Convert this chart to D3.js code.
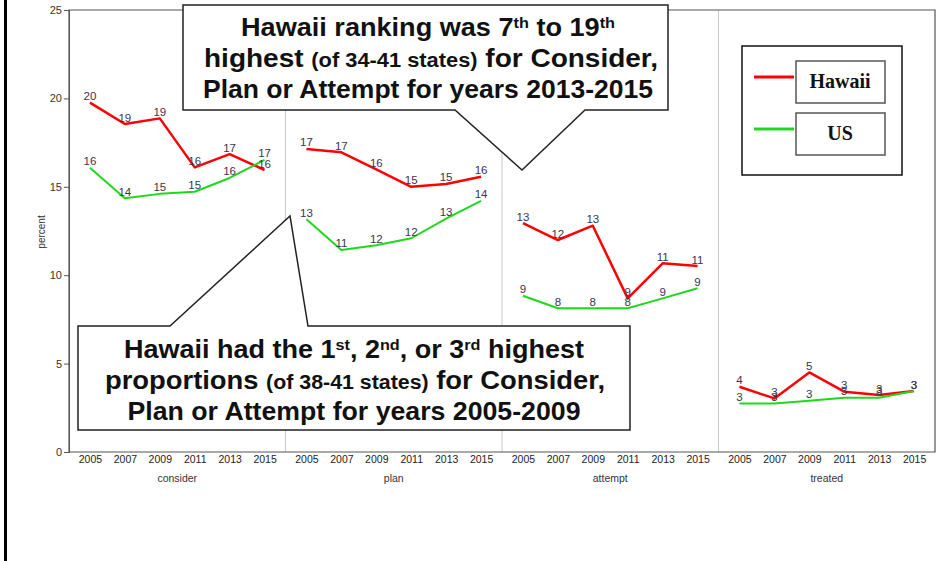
<!DOCTYPE html>
<html><head><meta charset="utf-8">
<script src="https://cdn.jsdelivr.net/npm/d3@7"></script>
<style>
body{margin:0;background:#fff;}
svg{display:block;font-family:"Liberation Sans",Arial,sans-serif;}
</style></head>
<body><svg id="c" width="951" height="561"></svg>
<script>
const years = ["2005","2007","2009","2011","2013","2015"];
const measures = ["consider","plan","attempt","treated"];
const hawaiiConsider = [19.76, 18.55, 18.87, 16.1, 16.85, 15.95];
const hawaiiPlan     = [17.14, 16.95, 15.99, 15.0, 15.16, 15.57];
const hawaiiAttempt  = [12.94, 11.99, 12.8, 8.69, 10.67, 10.52];
const hawaiiTreated  = [3.69, 3.03, 4.5, 3.41, 3.22, 3.45];
const usConsider = [16.08, 14.35, 14.6, 14.72, 15.5, 16.52];
const usPlan     = [13.16, 11.43, 11.7, 12.09, 13.2, 14.2];
const usAttempt  = [8.84, 8.13, 8.13, 8.13, 8.69, 9.26];
const usTreated  = [2.75, 2.75, 2.9, 3.07, 3.07, 3.45];
const yTicks = [0,5,10,15,20,25];
const seriesNames = ["Hawaii","US"];
const colors = {Hawaii:"#ff0000", US:"#1ed81e"};

const series = [
  {name:"Hawaii", data:[hawaiiConsider,hawaiiPlan,hawaiiAttempt,hawaiiTreated]},
  {name:"US", data:[usConsider,usPlan,usAttempt,usTreated]}
];

const svg = d3.select("#c");
const L=69, R=935, T=10, B=452;
const y = d3.scaleLinear().domain([0,25]).range([B,T]);
const panel = d3.scaleBand().domain(measures).range([L,R]).padding(0);
const x = d3.scalePoint().domain(years).range([0,panel.bandwidth()]).padding(0.6);

// left black border
svg.append("line").attr("x1",5.5).attr("x2",5.5).attr("y1",0).attr("y2",561)
  .attr("stroke","#000").attr("stroke-width",3);

// panel separators
measures.slice(1).forEach(m=>{
  svg.append("line").attr("x1",panel(m)).attr("x2",panel(m)).attr("y1",T).attr("y2",B)
    .attr("stroke","#c8c8c8").attr("stroke-width",1);
});
// frame
svg.append("path").attr("d",`M${L},${T}H${R}V${B}H${L}Z`).attr("fill","none")
  .attr("stroke","#555").attr("stroke-width",1.2);

// y axis
const yAx = svg.append("g").attr("transform",`translate(${L},0)`)
  .call(d3.axisLeft(y).tickValues(yTicks).tickSize(5).tickPadding(2));
yAx.select(".domain").attr("stroke","#555");
yAx.selectAll("line").attr("stroke","#555");
yAx.selectAll("text").attr("font-size",11).attr("fill","#333").attr("font-family","Liberation Sans, Arial");
svg.append("text").attr("transform","translate(45,232) rotate(-90)").attr("text-anchor","middle")
  .attr("font-size",10).attr("fill","#333").text("percent");

// x axes per panel
measures.forEach(m=>{
  const g = svg.append("g").attr("transform",`translate(${panel(m)},${B})`)
    .call(d3.axisBottom(x).tickSize(0).tickPadding(4));
  g.select(".domain").remove();
  g.selectAll("text").attr("font-size",10.5).attr("fill","#222").attr("font-family","Liberation Sans, Arial");
  svg.append("text").attr("x",panel(m)+panel.bandwidth()/2).attr("y",482)
    .attr("text-anchor","middle").attr("font-size",10.5).attr("fill","#333").text(m);
});

// lines and labels
const line = d3.line().x(d=>d.x).y(d=>d.y);
series.forEach(s=>{
  measures.forEach((m,mi)=>{
    const pts = s.data[mi].map((v,i)=>({x:panel(m)+x(years[i]), y:y(v), v}));
    svg.append("path").attr("d",line(pts)).attr("fill","none")
      .attr("stroke",colors[s.name]).attr("stroke-width",s.name==="Hawaii"?2.5:2)
      .attr("stroke-linejoin","round");
  });
});
series.forEach(s=>{
  measures.forEach((m,mi)=>{
    s.data[mi].forEach((v,i)=>{
      svg.append("text").attr("x",panel(m)+x(years[i])).attr("y",y(v)-2.5)
        .attr("text-anchor","middle").attr("font-size",11.5).attr("fill","#3a3450")
        .text(Math.round(v));
    });
  });
});

function addLine(g, cx, yb, parts, fs, w){
  const t = g.append("text").attr("x",cx).attr("y",yb).attr("text-anchor","middle")
    .attr("font-weight","bold").attr("font-size",fs).attr("fill","#111")
    .attr("textLength",w).attr("lengthAdjust","spacingAndGlyphs");
  parts.forEach(p=>{
    const ts = t.append("tspan").text(p.t);
    if(p.sup){ ts.attr("font-size",fs*0.6).attr("baseline-shift","55%"); }
    if(p.small){ ts.attr("font-size",fs*0.78); }
  });
}
// top callout
const tb = svg.append("g");
tb.append("path").attr("d","M183,5H668V110H585L522,170L455,110H183Z")
  .attr("fill","#fff").attr("stroke","#222").attr("stroke-width",1.5);
addLine(tb,428,36,[{t:"Hawaii ranking was 7"},{t:"th",sup:1},{t:" to 19"},{t:"th",sup:1}],25,374);
addLine(tb,431,67,[{t:"highest "},{t:"(of 34-41 states)",small:1},{t:" for Consider,"}],25,454);
addLine(tb,428,98,[{t:"Plan or Attempt for years 2013-2015"}],25,450);

// bottom callout
const bb = svg.append("g");
bb.append("path").attr("d","M78,326H170L290,216L308,326H630V430H78Z")
  .attr("fill","#fff").attr("stroke","#222").attr("stroke-width",1.5);
addLine(bb,354,358,[{t:"Hawaii had the 1"},{t:"st",sup:1},{t:", 2"},{t:"nd",sup:1},{t:", or 3"},{t:"rd",sup:1},{t:" highest"}],25,460);
addLine(bb,355,389,[{t:"proportions "},{t:"(of 38-41 states)",small:1},{t:" for Consider,"}],25,500);
addLine(bb,354,420,[{t:"Plan or Attempt for years 2005-2009"}],25,453);

// legend
const lg = svg.append("g");
lg.append("rect").attr("x",742).attr("y",46).attr("width",160).attr("height",129)
  .attr("fill","#fff").attr("stroke","#111").attr("stroke-width",1.5);
const legY = d3.scalePoint().domain(seriesNames).range([82,134]);
seriesNames.forEach(n=>{
  const cy = legY(n);
  lg.append("line").attr("x1",754).attr("x2",794).attr("y1",cy-5).attr("y2",cy-5)
    .attr("stroke",colors[n]).attr("stroke-width",3);
  lg.append("rect").attr("x",796).attr("y",cy-21).attr("width",89).attr("height",42)
    .attr("fill","#fff").attr("stroke","#555").attr("stroke-width",1.5);
  lg.append("text").attr("x",840).attr("y",cy+6).attr("text-anchor","middle")
    .attr("font-family","Liberation Serif, Times New Roman, serif").attr("font-weight","bold")
    .attr("font-size",20).attr("fill","#111").text(n);
});
</script></body></html>
